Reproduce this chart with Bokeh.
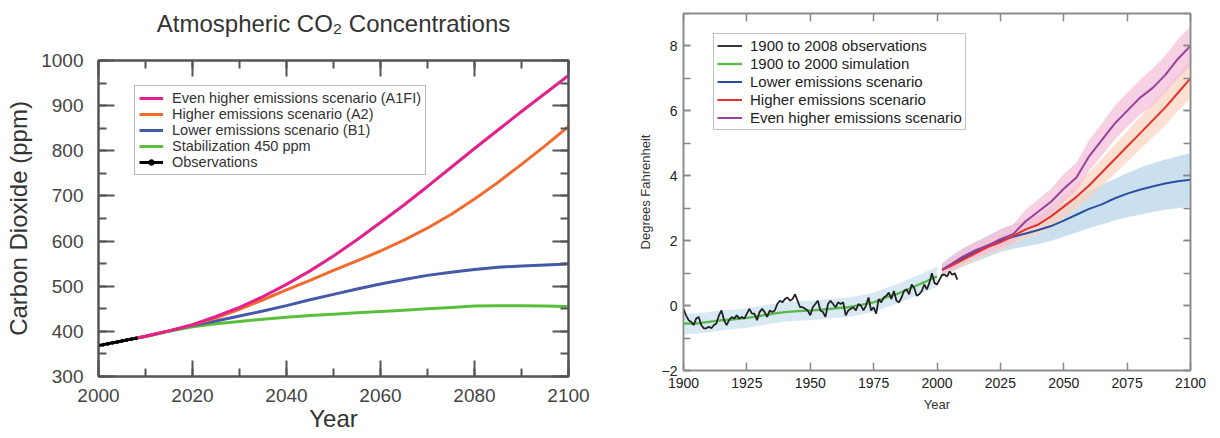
from bokeh.plotting import figure
from bokeh.models import LinearAxis, SingleIntervalTicker, Legend, LegendItem
from bokeh.embed import file_html
from bokeh.resources import INLINE

# ---------------- Left chart data: CO2 (ppm) ----------------
co2_obs_years = [2000, 2001, 2002, 2003, 2004, 2005, 2006, 2007, 2008]
co2_obs = [368.5, 370.5, 372.5, 374.6, 376.6, 378.8, 380.8, 382.8, 384.6]

scen_years = [2008, 2010, 2015, 2020, 2025, 2030, 2035, 2040, 2045, 2050,
              2055, 2060, 2065, 2070, 2075, 2080, 2085, 2090, 2095, 2100]
co2_a1fi = [385, 389, 401, 415, 433, 453, 477, 504, 534, 567,
            603, 641, 680, 721, 763, 805, 846, 887, 927, 967]
co2_a2 = [385, 389, 401, 414, 430, 449, 470, 492, 513, 535,
          556, 578, 602, 629, 659, 693, 730, 770, 811, 854]
co2_b1 = [385, 389, 401, 413, 423, 434, 445, 457, 470, 482,
          494, 505, 515, 524, 531, 537, 542, 545, 547, 549]
co2_450 = [385, 388, 400, 410, 417, 422, 427, 431, 435, 438,
           441, 444, 447, 450, 453, 456, 457, 457, 456, 455]

left_title = "Atmospheric CO\u2082 Concentrations"
left_names = ["Even higher emissions scenario (A1FI)", "Higher emissions scenario (A2)",
              "Lower emissions scenario (B1)", "Stabilization 450 ppm", "Observations"]

# ---------------- Right chart data: temperature (deg F) ----------------
t_obs_years = list(range(1900, 2009))
t_obs = [-0.1, -0.3, -0.45, -0.5, -0.6, -0.4, -0.35, -0.6, -0.7, -0.7,
         -0.65, -0.7, -0.6, -0.55, -0.3, -0.15, -0.45, -0.6, -0.45, -0.35,
         -0.4, -0.3, -0.4, -0.35, -0.4, -0.25, -0.1, -0.25, -0.25, -0.45,
         -0.2, -0.1, -0.2, -0.35, -0.15, -0.2, -0.15, 0.05, 0.15, 0.1,
         0.2, 0.25, 0.15, 0.2, 0.35, 0.15, -0.05, -0.05, -0.1, -0.15,
         -0.3, -0.05, 0.05, 0.15, -0.15, -0.2, -0.35, 0.05, 0.15, 0.05,
         -0.05, 0.1, 0.05, 0.1, -0.3, -0.15, -0.1, -0.05, -0.15, 0.05,
         0.0, -0.15, 0.0, 0.25, -0.15, -0.05, -0.25, 0.2, 0.1, 0.25,
         0.3, 0.4, 0.2, 0.45, 0.15, 0.1, 0.25, 0.45, 0.5, 0.35,
         0.65, 0.55, 0.3, 0.35, 0.45, 0.65, 0.5, 0.7, 1.0, 0.7,
         0.65, 0.8, 0.95, 0.95, 0.9, 1.05, 0.95, 1.0, 0.8]

sim_years = [1900, 1905, 1910, 1915, 1920, 1925, 1930, 1935, 1940, 1945, 1950,
             1955, 1960, 1965, 1970, 1975, 1980, 1985, 1990, 1995, 2000]
sim = [-0.55, -0.55, -0.5, -0.45, -0.42, -0.38, -0.32, -0.25, -0.2, -0.17, -0.15,
       -0.12, -0.08, -0.05, 0.02, 0.1, 0.25, 0.38, 0.55, 0.72, 0.9]
sim_lo = [-0.88, -0.87, -0.82, -0.76, -0.72, -0.68, -0.62, -0.55, -0.5, -0.47, -0.45,
          -0.42, -0.38, -0.35, -0.28, -0.2, -0.05, 0.08, 0.24, 0.4, 0.58]
sim_hi = [-0.25, -0.24, -0.2, -0.15, -0.12, -0.08, -0.02, 0.05, 0.1, 0.13, 0.15,
          0.18, 0.22, 0.25, 0.32, 0.4, 0.55, 0.68, 0.85, 1.02, 1.2]

proj_years = [2002, 2005, 2010, 2015, 2020, 2025, 2030, 2035, 2040, 2045, 2050,
              2055, 2060, 2065, 2070, 2075, 2080, 2085, 2090, 2095, 2100]
lower = [1.1, 1.25, 1.45, 1.65, 1.85, 2.0, 2.12, 2.22, 2.33, 2.45, 2.62,
         2.8, 2.98, 3.12, 3.3, 3.45, 3.57, 3.67, 3.76, 3.83, 3.88]
lower_hi = [1.3, 1.5, 1.75, 1.95, 2.15, 2.35, 2.5, 2.65, 2.8, 2.95, 3.15,
            3.35, 3.55, 3.72, 3.9, 4.08, 4.25, 4.38, 4.5, 4.6, 4.7]
lower_lo = [0.95, 1.0, 1.2, 1.35, 1.5, 1.65, 1.75, 1.82, 1.9, 2.0, 2.12,
            2.25, 2.38, 2.5, 2.62, 2.72, 2.8, 2.88, 2.95, 3.0, 3.05]
higher = [1.1, 1.2, 1.4, 1.6, 1.8, 1.95, 2.15, 2.35, 2.5, 2.75, 3.05,
          3.35, 3.7, 4.1, 4.5, 4.9, 5.3, 5.7, 6.1, 6.55, 7.0]
higher_hi = [1.25, 1.35, 1.6, 1.8, 2.02, 2.2, 2.42, 2.63, 2.8, 3.08, 3.4,
             3.72, 4.1, 4.52, 4.95, 5.37, 5.8, 6.22, 6.65, 7.12, 7.6]
higher_lo = [0.95, 1.05, 1.2, 1.4, 1.58, 1.7, 1.88, 2.07, 2.2, 2.42, 2.7,
             2.98, 3.3, 3.68, 4.05, 4.43, 4.8, 5.18, 5.55, 5.98, 6.4]
even = [1.1, 1.25, 1.5, 1.7, 1.85, 2.05, 2.2, 2.6, 2.9, 3.2, 3.6,
        3.95, 4.6, 5.1, 5.6, 6.0, 6.4, 6.7, 7.1, 7.6, 8.0]
even_hi = [1.3, 1.45, 1.75, 1.95, 2.12, 2.35, 2.5, 2.95, 3.28, 3.6, 4.05,
           4.4, 5.1, 5.6, 6.15, 6.55, 6.95, 7.3, 7.7, 8.2, 8.6]
even_lo = [0.95, 1.05, 1.3, 1.48, 1.6, 1.78, 1.92, 2.28, 2.55, 2.83, 3.2,
           3.52, 4.15, 4.62, 5.1, 5.5, 5.88, 6.15, 6.55, 7.0, 7.4]

right_names = ["1900 to 2008 observations", "1900 to 2000 simulation",
               "Lower emissions scenario", "Higher emissions scenario",
               "Even higher emissions scenario"]

FONT = "Liberation Sans"


def style_axis(ax, color, width, tick_in, minor_in, label_size, label_color, standoff):
    ax.axis_line_color = color
    ax.axis_line_width = width
    ax.major_tick_line_color = color
    ax.major_tick_line_width = width
    ax.minor_tick_line_color = color
    ax.minor_tick_line_width = width
    ax.major_tick_in = tick_in
    ax.major_tick_out = 0
    ax.minor_tick_in = minor_in
    ax.minor_tick_out = 0
    ax.major_label_text_font = FONT
    ax.major_label_text_font_size = label_size
    ax.major_label_text_color = label_color
    ax.major_label_standoff = standoff


def mirror(p, where, ticker, color, width, tick_in, minor_in):
    ax = LinearAxis(ticker=ticker)
    style_axis(ax, color, width, tick_in, minor_in, "0px", color, 0)
    ax.major_label_text_alpha = 0
    p.add_layout(ax, where)
    return ax


def label_style(ax, size, color, standoff):
    ax.axis_label_text_font = FONT
    ax.axis_label_text_font_size = size
    ax.axis_label_text_font_style = "normal"
    ax.axis_label_text_color = color
    ax.axis_label_standoff = standoff


# ---------------- Left figure ----------------
p1 = figure(width=608, height=438, x_range=(2000, 2100), y_range=(300, 1000),
            output_backend="svg", toolbar_location=None,
            min_border_left=98, min_border_right=40, min_border_top=60, min_border_bottom=62)
p1.title.visible = False
p1.xgrid.visible = False
p1.ygrid.visible = False
p1.outline_line_color = "#555555"
p1.outline_line_width = 2

p1.xaxis.ticker = SingleIntervalTicker(interval=20, num_minor_ticks=2)
p1.yaxis.ticker = SingleIntervalTicker(interval=100, num_minor_ticks=2)
style_axis(p1.xaxis[0], "#555555", 2, 16, 8, "19px", "#444444", 12)
style_axis(p1.yaxis[0], "#555555", 2, 16, 8, "19px", "#444444", 15)
p1.xaxis.axis_label = "Year"
p1.yaxis.axis_label = "Carbon Dioxide (ppm)"
label_style(p1.xaxis[0], "24px", "#333333", 0)
label_style(p1.yaxis[0], "24px", "#333333", 6)
mirror(p1, "right", SingleIntervalTicker(interval=100, num_minor_ticks=2), "#555555", 2, 16, 8)
top1 = mirror(p1, "above", SingleIntervalTicker(interval=20, num_minor_ticks=2), "#555555", 2, 16, 8)
top1.axis_label = left_title
label_style(top1, "24px", "#333333", 24)

r_450 = p1.line(scen_years, co2_450, line_color="#5cbf3c", line_width=3)
r_b1 = p1.line(scen_years, co2_b1, line_color="#4659a8", line_width=3)
r_a2 = p1.line(scen_years, co2_a2, line_color="#f26b2d", line_width=3)
r_a1 = p1.line(scen_years, co2_a1fi, line_color="#e41f8e", line_width=3)
r_obs = p1.line(co2_obs_years, co2_obs, line_color="black", line_width=3)
r_obs_pts = p1.scatter(co2_obs_years, co2_obs, size=3, color="black")

leg1 = Legend(items=[
    LegendItem(label=left_names[0], renderers=[r_a1]),
    LegendItem(label=left_names[1], renderers=[r_a2]),
    LegendItem(label=left_names[2], renderers=[r_b1]),
    LegendItem(label=left_names[3], renderers=[r_450]),
    LegendItem(label=left_names[4], renderers=[r_obs, r_obs_pts]),
], location=(36, 201))
leg1.label_text_font = FONT
leg1.label_text_font_size = "14.5px"
leg1.label_text_color = "#333333"
leg1.label_height = 14
leg1.glyph_height = 14
leg1.glyph_width = 24
leg1.spacing = 0
leg1.padding = 4
leg1.margin = 0
leg1.label_standoff = 9
leg1.border_line_color = "#777777"
leg1.border_line_width = 1.5
p1.add_layout(leg1)

# ---------------- Right figure ----------------
p2 = figure(width=612, height=438, x_range=(1900, 2100), y_range=(-2, 9),
            output_backend="svg", toolbar_location=None,
            min_border_left=75, min_border_right=30, min_border_top=13, min_border_bottom=68)
p2.title.visible = False
p2.xgrid.visible = False
p2.ygrid.visible = False
p2.outline_line_color = "#888888"
p2.outline_line_width = 1.5

p2.xaxis.ticker = SingleIntervalTicker(interval=25, num_minor_ticks=0)
p2.yaxis.ticker = SingleIntervalTicker(interval=2, num_minor_ticks=2)
style_axis(p2.xaxis[0], "#888888", 1.5, 8, 0, "14px", "#222222", 7)
style_axis(p2.yaxis[0], "#888888", 1.5, 7, 7, "14px", "#222222", 6)
p2.xaxis.axis_label = "Year"
p2.yaxis.axis_label = "Degrees Fahrenheit"
label_style(p2.xaxis[0], "13px", "#333333", 6)
label_style(p2.yaxis[0], "13px", "#333333", 6)
mirror(p2, "right", SingleIntervalTicker(interval=2, num_minor_ticks=2), "#888888", 1.5, 7, 7)
mirror(p2, "above", SingleIntervalTicker(interval=25, num_minor_ticks=0), "#888888", 1.5, 8, 0)

p2.varea(x=proj_years, y1=lower_lo, y2=lower_hi, fill_color="#b9d6ea", fill_alpha=0.75)
p2.varea(x=proj_years, y1=higher_lo, y2=higher_hi, fill_color="#fbd3bd", fill_alpha=0.7)
p2.varea(x=proj_years, y1=even_lo, y2=even_hi, fill_color="#f4bcd9", fill_alpha=0.7)
p2.varea(x=sim_years, y1=sim_lo, y2=sim_hi, fill_color="#cfe3f1", fill_alpha=0.8)

g_sim = p2.line(sim_years, sim, line_color="#5cb84a", line_width=2.4)
g_obs = p2.line(t_obs_years, t_obs, line_color="#222222", line_width=1.8)
g_low = p2.line(proj_years, lower, line_color="#2d4f9e", line_width=2)
g_high = p2.line(proj_years, higher, line_color="#e8312a", line_width=2)
g_even = p2.line(proj_years, even, line_color="#9a3f9c", line_width=2)

leg2 = Legend(items=[
    LegendItem(label=right_names[0], renderers=[g_obs]),
    LegendItem(label=right_names[1], renderers=[g_sim]),
    LegendItem(label=right_names[2], renderers=[g_low]),
    LegendItem(label=right_names[3], renderers=[g_high]),
    LegendItem(label=right_names[4], renderers=[g_even]),
], location=(30, 240))
leg2.label_text_font = FONT
leg2.label_text_font_size = "15px"
leg2.label_text_color = "#222222"
leg2.label_height = 15
leg2.glyph_height = 15
leg2.glyph_width = 25
leg2.spacing = 1
leg2.padding = 3
leg2.margin = 0
leg2.label_standoff = 8
leg2.border_line_color = "#888888"
leg2.border_line_width = 1.5
p2.add_layout(leg2)

page_template = """
{% block postamble %}
<style>
body { display: flex !important; flex-direction: row; align-items: flex-start; }
</style>
{% endblock %}
"""

open("out.html", "w").write(file_html([p1, p2], INLINE, template=page_template))
